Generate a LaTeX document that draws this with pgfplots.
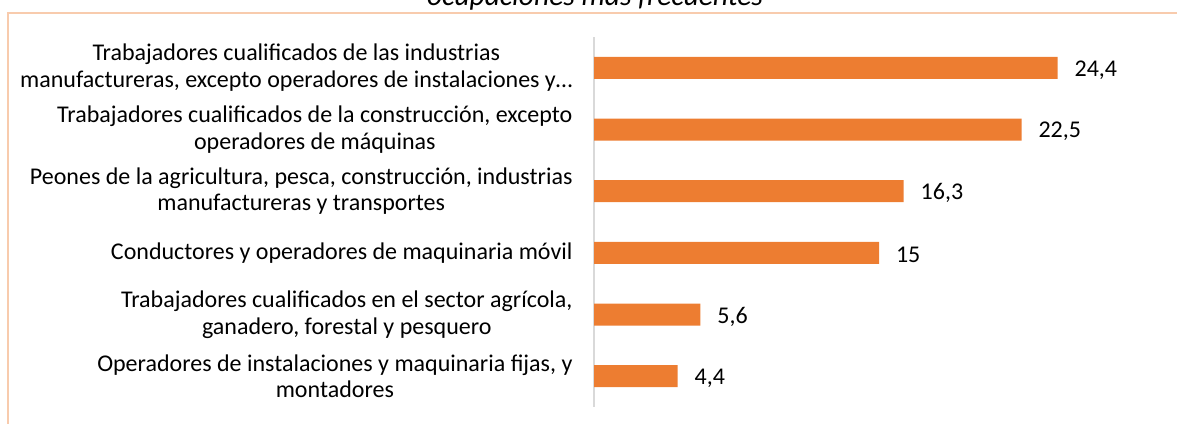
\documentclass[border=0pt]{standalone}
\usepackage{pgfplots}
\pgfplotsset{compat=1.18}
\usepackage{fontspec}
\setmainfont{Carlito}
\definecolor{barc}{HTML}{ED7D31}
\definecolor{bord}{HTML}{F8CBAD}
\definecolor{axc}{HTML}{D9D9D9}
\begin{document}
\begin{tikzpicture}[x=1pt,y=1pt]
\path[use as bounding box] (0,0) rectangle (1177,423);
\draw[color=bord, line width=1.6pt] (8,-30) rectangle (1220,410);
\node[font=\fontsize{29.5}{34}\selectfont\itshape, anchor=base, inner sep=0pt] at (595,417) {ocupaciones más frecuentes};
\begin{axis}[
  at={(594pt,16pt)}, anchor=south west,
  scale only axis, width=551pt, height=370pt,
  xbar, bar width=22pt,
  xmin=0, xmax=29,
  ymin=0.5, ymax=6.5, y dir=reverse,
  axis x line=none,
  axis y line=left,
  y axis line style={-, draw=axc, line width=1.2pt},
  ytick={1,2,3,4,5,6},
  major tick length=0pt,
  tick style={draw=none},
  yticklabels={
    {Trabajadores cualificados de las industrias\\manufactureras, excepto operadores de instalaciones y…},
    {Trabajadores cualificados de la construcción, excepto\\operadores de máquinas},
    {Peones de la agricultura, pesca, construcción, industrias\\manufactureras y transportes},
    {Conductores y operadores de maquinaria móvil},
    {Trabajadores cualificados en el sector agrícola,\\ganadero, forestal y pesquero},
    {Operadores de instalaciones y maquinaria fijas, y\\montadores}
  },
  yticklabel style={font=\fontsize{24}{26.5}\selectfont, align=center, xshift=-18pt},
  nodes near coords,
  nodes near coords style={font=\fontsize{24}{28}\selectfont, anchor=west, xshift=13.5pt, yshift=-2pt, /pgf/number format/use comma, /pgf/number format/assume math mode=true},
  clip=false,
]
\addplot[fill=barc, draw=none] coordinates {(24.4,1) (22.5,2) (16.3,3) (15,4) (5.6,5) (4.4,6)};
\end{axis}
\end{tikzpicture}
\end{document}
